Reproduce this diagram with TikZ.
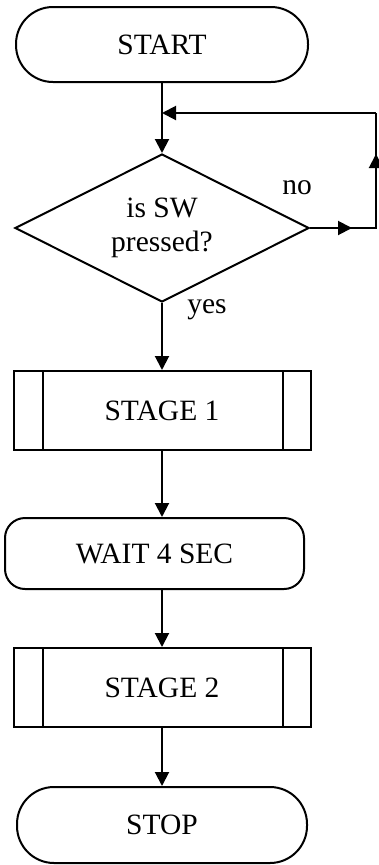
\documentclass[tikz,border=0pt]{standalone}
\usepackage{fontspec}
\setmainfont{Liberation Serif}
\usetikzlibrary{arrows.meta,shapes.geometric,calc}

\tikzset{
  every node/.style={font=\fontsize{29.5}{33}\selectfont, inner sep=0pt},
  line/.style={line width=2pt, draw=black},
  arr/.style={line, -{Triangle[length=14pt,width=14pt]}},
  terminal/.style={line, rectangle, rounded corners=37pt},
  waitbox/.style={line, rectangle, rounded corners=20pt},
  stagebox/.style={line, rectangle, minimum width=297pt, minimum height=79pt},
  decision/.style={line, diamond, minimum width=294pt, minimum height=148pt, aspect=2, align=center},
  lbl/.style={anchor=base}
}

\begin{document}
\begin{tikzpicture}[x=1pt,y=1pt]
  \path[use as bounding box] (0,0) rectangle (379,-865);

  % flow nodes
  \node[terminal, minimum width=292pt, minimum height=75pt] (start) at (162,-44.5) {START};
  \node[decision] (dec) at (162,-228) {is SW\\[1pt]pressed?};
  \node[stagebox] (s1) at (162,-410.5) {STAGE 1};
  \node[waitbox, minimum width=299pt, minimum height=71pt] (wait) at (154.5,-553.5) {WAIT 4 SEC};
  \node[stagebox] (s2) at (162,-687.5) {STAGE 2};
  \node[terminal, minimum width=290pt, minimum height=76pt] (stop) at (162,-825) {STOP};

  % side bars of the predefined-process boxes
  \foreach \b in {s1,s2} {
    \draw[line] ([xshift=30pt]\b.north west) -- ([xshift=30pt]\b.south west);
    \draw[line] ([xshift=-29pt]\b.north east) -- ([xshift=-29pt]\b.south east);
  }

  % loop-back path for "no"
  \coordinate (r1) at (376,-228);
  \coordinate (r2) at (376,-113);
  \coordinate (join) at (162,-113);
  \draw[line] (dec.east) -- (r1) -- (r2);
  \draw[arr] (dec.east) -- ([xshift=-24pt]r1);
  \draw[arr] (r1) -- ([yshift=74pt]r1);
  \draw[arr] (r2) -- (join);

  % main connectors
  \draw[arr] (start.south) -- (dec.north);
  \draw[arr] (dec.south) -- (s1.north);
  \draw[arr] (s1.south) -- (s1.south |- wait.north);
  \draw[arr] (s1.south |- wait.south) -- (s2.north);
  \draw[arr] (s2.south) -- (stop.north);

  % branch labels
  \node[lbl] (no) at (297,-194) {no};
  \node[lbl] (yes) at (207,-313) {yes};
\end{tikzpicture}
\end{document}
